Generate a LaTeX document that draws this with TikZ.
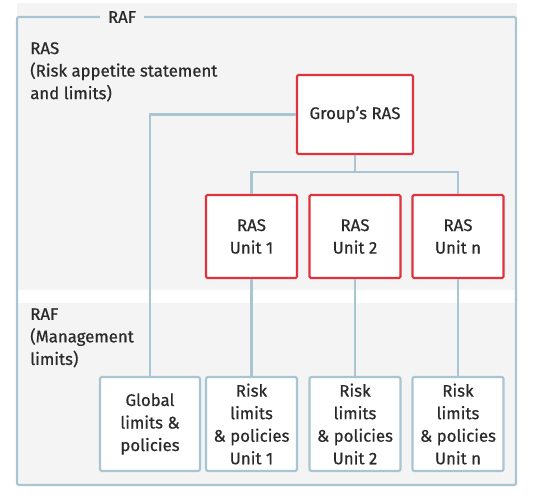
\documentclass[tikz,border=0pt]{standalone}
\usepackage{fontspec}
\setmainfont{Fira Sans}[FakeBold=0.6]
\definecolor{bg}{HTML}{F4F4F4}
\definecolor{frame}{HTML}{A9C5D2}
\definecolor{redb}{HTML}{E0323C}
\definecolor{txt}{HTML}{2A2A2A}
\begin{document}
\begin{tikzpicture}[x=0.75pt,y=-0.75pt,
  every node/.style={font=\fontsize{12.6}{16.9}\selectfont, text=txt},
  rasbox/.style={draw=redb, line width=1.6pt, fill=white, rounded corners=1pt, align=center, inner sep=0pt},
  limbox/.style={draw=frame, line width=1.6pt, fill=white, rounded corners=1.5pt, align=center, inner sep=0pt, minimum height=70.5pt},
  conn/.style={draw=frame, line width=1.6pt},
  lbl/.style={anchor=north west, align=left, inner sep=0pt}]
\useasboundingbox (0,0) rectangle (539,499);
\fill[bg] (17,3) rectangle (517,290);
\fill[bg] (17,303) rectangle (517,486);
\draw[conn, rounded corners=1.5pt] (17,17) rectangle (516,485);
\node[fill=bg, inner xsep=6pt, inner ysep=2pt] (raf) at (122,17) {RAF};
\node[lbl] (ras) at (30,42) {RAS\\(Risk appetite statement\\and limits)};
\node[lbl] (rafm) at (30,308) {RAF\\(Management\\limits)};
\node[rasbox, minimum width=87pt, minimum height=59.25pt] (g) at (355,114.5) {Group\char39s RAS};
\node[rasbox, minimum width=68.25pt, minimum height=62.25pt] (u1) at (251.5,236.5) {RAS\\Unit 1};
\node[rasbox, minimum width=68.25pt, minimum height=62.25pt] (u2) at (355,236.5) {RAS\\Unit 2};
\node[rasbox, minimum width=68.25pt, minimum height=62.25pt] (un) at (458,236.5) {RAS\\Unit n};
\node[limbox, minimum width=75pt] (gl) at (150,424) {Global\\limits \&\\policies};
\node[limbox, minimum width=68.25pt] (r1) at (251.5,424) {Risk\\limits\\\& policies\\Unit 1};
\node[limbox, minimum width=68.25pt] (r2) at (355,424) {Risk\\limits\\\& policies\\Unit 2};
\node[limbox, minimum width=68.25pt] (rn) at (458,424) {Risk\\limits\\\& policies\\Unit n};
\coordinate (bus) at (355,172);
\draw[conn] (g.west) -| (gl.north);
\draw[conn] (g.south) -- (bus);
\draw[conn] (u1.north) -- (u1.north |- bus) -- (un.north |- bus) -- (un.north);
\draw[conn] (u1.south) -- (r1.north);
\draw[conn] (u2.south) -- (r2.north);
\draw[conn] (un.south) -- (rn.north);
\end{tikzpicture}
\end{document}
